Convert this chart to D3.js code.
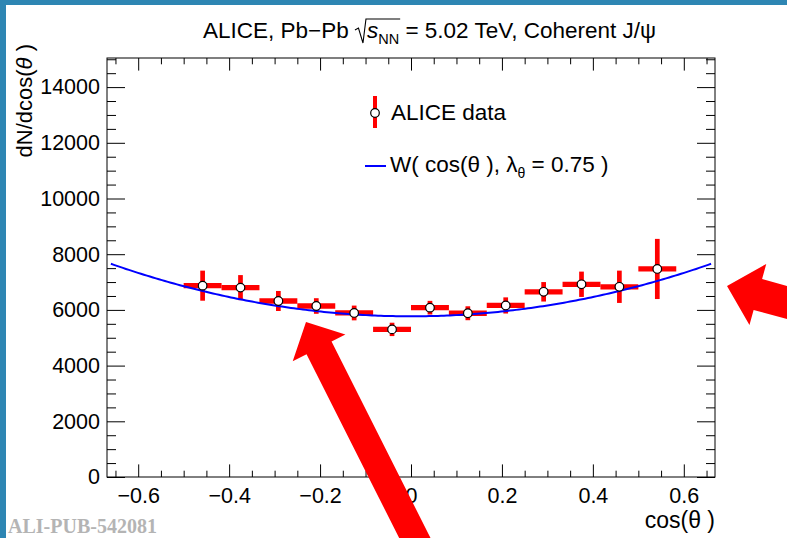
<!DOCTYPE html>
<html><head><meta charset="utf-8">
<script src="https://cdn.jsdelivr.net/npm/d3@7"></script>
<style>html,body{margin:0;padding:0;background:#fff;}svg{display:block;}</style>
</head><body>
<svg id="c" width="787" height="538"></svg>
<script>
// ---- data ----
const binCenters = [-0.4583, -0.375, -0.2917, -0.2083, -0.125, -0.0417, 0.0417, 0.125, 0.2083, 0.2917, 0.375, 0.4583, 0.5417];
const binHalfWidth = [0.0417, 0.0417, 0.0417, 0.0417, 0.0417, 0.0417, 0.0417, 0.0417, 0.0417, 0.0417, 0.0417, 0.0417, 0.0417];
const counts = [6870, 6800, 6320, 6140, 5890, 5300, 6080, 5880, 6160, 6650, 6920, 6830, 7470];
const countErr = [540, 450, 360, 280, 265, 240, 245, 250, 290, 350, 455, 580, 1080];
const fitLambda = 0.75;
const fitNorm = 5770;
const fitRange = [-0.66, 0.66];
const xTickLabels = [-0.6, -0.4, -0.2, 0, 0.2, 0.4, 0.6];
const yTickLabels = [0, 2000, 4000, 6000, 8000, 10000, 12000, 14000];
const xDomain = [-0.6686, 0.6686];
const yDomain = [0, 15045];

// ---- layout ----
const W = 787, H = 538;
const fx0 = 107, fx1 = 715, fy0 = 58, fy1 = 477;
const FONT = "'Liberation Sans', Arial, Helvetica, sans-serif";
const LABEL_SIZE = 21.5;
const svg = d3.select("#c");

const x = d3.scaleLinear().domain(xDomain).range([fx0, fx1]);
const y = d3.scaleLinear().domain(yDomain).range([fy1, fy0]);

// border stripes
svg.append("rect").attr("x",0).attr("y",0).attr("width",W).attr("height",5).attr("fill","#2e86b3");
svg.append("rect").attr("x",0).attr("y",0).attr("width",6).attr("height",H).attr("fill","#2e86b3");

// ---- axes ----
const xMinor = d3.range(-13, 14).map(i => +(i*0.05).toFixed(2)).filter(v => !xTickLabels.includes(v));
const yMinor = d3.range(0, 31).map(i => i*500).filter(v => !yTickLabels.includes(v));
const fmtX = d => d === 0 ? "0" : d3.format(".1f")(d);

function styleAxis(g, showText){
  g.select(".domain").remove();
  g.selectAll("line").attr("stroke","#000").attr("stroke-width",1);
  g.selectAll("text").attr("font-family",FONT).attr("font-size",LABEL_SIZE).attr("fill","#000");
  if(!showText) g.selectAll("text").remove();
}
// bottom
svg.append("g").attr("transform",`translate(0,${fy1})`)
  .call(d3.axisBottom(x).tickValues(xTickLabels).tickSize(-12.6).tickPadding(11).tickFormat(fmtX))
  .call(g=>styleAxis(g,true));
svg.append("g").attr("transform",`translate(0,${fy1})`)
  .call(d3.axisBottom(x).tickValues(xMinor).tickSize(-6.3)).call(g=>styleAxis(g,false));
// top
svg.append("g").attr("transform",`translate(0,${fy0})`)
  .call(d3.axisTop(x).tickValues(xTickLabels).tickSize(-12.6)).call(g=>styleAxis(g,false));
svg.append("g").attr("transform",`translate(0,${fy0})`)
  .call(d3.axisTop(x).tickValues(xMinor).tickSize(-6.3)).call(g=>styleAxis(g,false));
// left
svg.append("g").attr("transform",`translate(${fx0},0)`)
  .call(d3.axisLeft(y).tickValues(yTickLabels).tickSize(-18).tickPadding(7).tickFormat(d3.format("d")))
  .call(g=>styleAxis(g,true));
svg.append("g").attr("transform",`translate(${fx0},0)`)
  .call(d3.axisLeft(y).tickValues(yMinor).tickSize(-9)).call(g=>styleAxis(g,false));
// right
svg.append("g").attr("transform",`translate(${fx1},0)`)
  .call(d3.axisRight(y).tickValues(yTickLabels).tickSize(-18)).call(g=>styleAxis(g,false));
svg.append("g").attr("transform",`translate(${fx1},0)`)
  .call(d3.axisRight(y).tickValues(yMinor).tickSize(-9)).call(g=>styleAxis(g,false));

// frame
svg.append("rect").attr("x",fx0).attr("y",fy0).attr("width",fx1-fx0).attr("height",fy1-fy0)
  .attr("fill","none").attr("stroke","#000").attr("stroke-width",1);

// ---- data ----
const pts = binCenters.map((c,i)=>({x:c, hw:binHalfWidth[i], v:counts[i], e:countErr[i]}));
const gBars = svg.append("g");
gBars.selectAll("line.h").data(pts).join("line")
  .attr("x1",d=>x(d.x-d.hw)).attr("x2",d=>x(d.x+d.hw))
  .attr("y1",d=>y(d.v)).attr("y2",d=>y(d.v))
  .attr("stroke","#ff0000").attr("stroke-width",5.3);
gBars.selectAll("line.v").data(pts).join("line")
  .attr("x1",d=>x(d.x)).attr("x2",d=>x(d.x))
  .attr("y1",d=>y(d.v-d.e)).attr("y2",d=>y(d.v+d.e))
  .attr("stroke","#ff0000").attr("stroke-width",4.7);

// fit curve
const W_fit = c => fitNorm*(1 + fitLambda*c*c);
const curveX = d3.range(0, 201).map(i => fitRange[0] + (fitRange[1]-fitRange[0])*i/200);
svg.append("path").datum(curveX)
  .attr("d", d3.line().x(c=>x(c)).y(c=>y(W_fit(c))))
  .attr("fill","none").attr("stroke","#0000ff").attr("stroke-width",2);

// markers
svg.append("g").selectAll("circle").data(pts).join("circle")
  .attr("cx",d=>x(d.x)).attr("cy",d=>y(d.v)).attr("r",4.3)
  .attr("fill","#fff").attr("stroke","#000").attr("stroke-width",1.2);

// ---- legend ----
const lg = svg.append("g");
lg.append("line").attr("x1",375).attr("x2",375).attr("y1",96).attr("y2",128)
  .attr("stroke","#ff0000").attr("stroke-width",4);
lg.append("circle").attr("cx",375).attr("cy",113).attr("r",4.3)
  .attr("fill","#fff").attr("stroke","#000").attr("stroke-width",1.2);
lg.append("text").attr("x",391).attr("y",120).attr("font-family",FONT).attr("font-size",22.5)
  .text("ALICE data");
lg.append("line").attr("x1",365).attr("x2",386).attr("y1",166).attr("y2",166)
  .attr("stroke","#0000ff").attr("stroke-width",2);
const t2 = lg.append("text").attr("x",390).attr("y",172).attr("font-family",FONT).attr("font-size",22.5);
t2.append("tspan").text("W( cos(θ ), λ");
t2.append("tspan").attr("font-size",14).attr("dy",6).text("θ");
t2.append("tspan").attr("dy",-6).text(" = 0.75 )");

// ---- title ----
const title = svg.append("g");
const tsize = 22.5;
let tx = 203, ty = 38;
function piece(txt, size, dy, italic){
  const t = title.append("text").attr("x",tx).attr("y",ty+dy).attr("font-family",FONT)
    .attr("font-size",size).attr("font-style",italic?"italic":"normal").attr("xml:space","preserve").text(txt);
  const w = t.node().getComputedTextLength();
  tx += w;
  return w;
}
piece("ALICE, Pb\u2212Pb ", tsize, 0, false);
const radX = tx;
tx += 12;
piece("s", tsize, 0, true);
piece("NN", 14.5, 6, false);
const sEnd = tx + 1;
title.append("path")
  .attr("d",`M${radX},${ty-8} L${radX+3.5},${ty-10} L${radX+8},${ty+5} L${radX+11},${ty-19} L${sEnd},${ty-19}`)
  .attr("fill","none").attr("stroke","#000").attr("stroke-width",1.1);
piece(" = 5.02 TeV, Coherent J/\u03C8", tsize, 0, false);

// ---- axis titles ----
const yl = svg.append("text").attr("transform","translate(32,44) rotate(-90)")
  .attr("text-anchor","end").attr("font-family",FONT).attr("font-size",22);
yl.append("tspan").text("dN/dcos(");
yl.append("tspan").attr("font-style","italic").text("θ");
yl.append("tspan").text(" )");

svg.append("text").attr("x",fx1).attr("y",528).attr("text-anchor","end")
  .attr("font-family",FONT).attr("font-size",23).text("cos(θ )");

svg.append("text").attr("x",8).attr("y",533)
  .attr("font-family","'Liberation Serif','Times New Roman',serif").attr("font-weight","bold")
  .attr("font-size",20).attr("fill","#b4b4b4").text("ALI-PUB-542081");

// ---- annotation arrows ----
const arrows = [
  {tip:[727,286], dir:[0.965,0.265], headLen:32, headHalf:31.7, shaftHalf:16, len:200},
  {tip:[306,322], dir:[0.45,0.893], headLen:29, headHalf:29.5, shaftHalf:14, len:320}
];
arrows.forEach(a=>{
  const m = Math.hypot(a.dir[0],a.dir[1]);
  const d = [a.dir[0]/m, a.dir[1]/m], n = [-d[1], d[0]];
  const b = [a.tip[0]+d[0]*a.headLen, a.tip[1]+d[1]*a.headLen];
  const t = [a.tip[0]+d[0]*a.len, a.tip[1]+d[1]*a.len];
  const P = (p,k)=>[p[0]+n[0]*k, p[1]+n[1]*k];
  const poly = [a.tip, P(b,a.headHalf), P(b,a.shaftHalf), P(t,a.shaftHalf), P(t,-a.shaftHalf), P(b,-a.shaftHalf), P(b,-a.headHalf)];
  svg.append("path").attr("d","M"+poly.map(p=>p.join(",")).join("L")+"Z").attr("fill","#ff0000");
});
</script>
</body></html>
